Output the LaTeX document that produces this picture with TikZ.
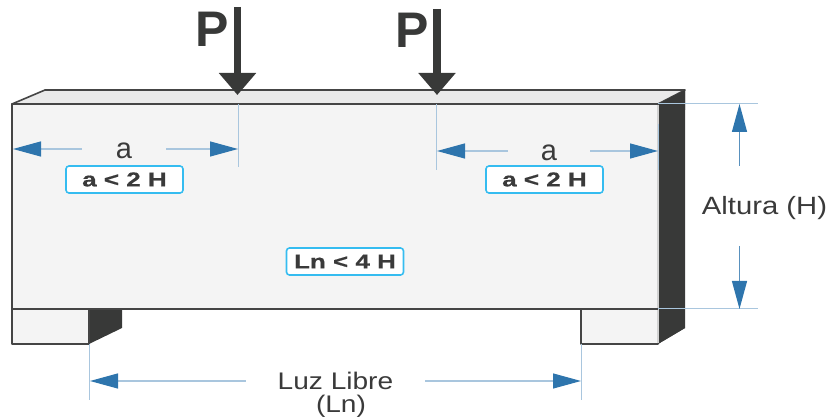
\documentclass[tikz,border=0pt]{standalone}
\usepackage{fontspec}
\usetikzlibrary{arrows.meta}
\setmainfont{Liberation Sans}
\newfontfamily\widefont[FakeStretch=1.17]{Liberation Sans}
\newfontfamily\boldwide[FakeStretch=1.3,FakeBold=0.6]{Liberation Sans Bold}
\definecolor{edgec}{HTML}{454545}
\definecolor{facec}{HTML}{F4F4F4}
\definecolor{topc}{HTML}{EAEAEA}
\definecolor{darkc}{HTML}{383938}
\definecolor{dimc}{HTML}{2E75AD}
\definecolor{extc}{HTML}{A9C6DE}
\definecolor{labc}{HTML}{35BCF0}
\definecolor{txtc}{HTML}{3A3A3A}
\tikzset{
  solid face/.style={fill=facec,draw=edgec,line width=1.6pt,line join=round},
  dark face/.style={fill=darkc,draw=none},
  load/.style={draw=darkc,line width=7.5pt,-{Triangle[length=22pt,width=36pt,fill=darkc]}},
  extline/.style={draw=extc,line width=1pt},
  dimline/.style={draw=extc,line width=1.2pt,-{Triangle[length=28pt,width=15pt,fill=dimc,color=dimc]}},
  dimtext/.style={text=txtc,font=\fontsize{25}{25}\widefont,inner sep=0pt,anchor=center},
  smallatext/.style={text=txtc,font=\fontsize{29}{29}\selectfont,inner sep=0pt,anchor=center},
  limitbox/.style={draw=labc,fill=white,line width=1.6pt,rounded corners=3pt,text=txtc,
    font=\fontsize{20}{20}\boldwide,inner sep=0pt,minimum width=117pt,minimum height=27pt,anchor=center},
  loadtext/.style={text=darkc,font=\fontsize{50}{50}\bfseries,inner sep=0pt,anchor=center}
}
\begin{document}
\begin{tikzpicture}[x=1pt,y=-1pt]
\useasboundingbox (0,0) rectangle (831,419);
% beam and supports
\fill[dark face] (658,104) -- (685,90) -- (685,328) -- (658,344) -- cycle;
\fill[dark face] (89,309) -- (122,309) -- (122,328) -- (89,344) -- cycle;
\draw[solid face,fill=topc] (12,104) -- (45,90) -- (685,90) -- (658,104) -- cycle;
\fill[dark face] (658,104) -- (685,90) -- (685,110) -- (658,110) -- cycle;
\draw[solid face] (12,309) rectangle (89,344);
\draw[solid face] (581,309) rectangle (658,344);
\fill[dark face] (658,105) rectangle (685,328);
\fill[dark face] (658,328) -- (685,328) -- (658,344) -- cycle;
\draw[solid face] (12,104) rectangle (658,309);
\draw[draw=facec!70!gray,line width=1.2pt] (658,105) -- (658,343);
\draw[draw=edgec,line width=1.6pt] (12,104) -- (658,104);
\draw[draw=edgec,line width=1.6pt] (12,309) -- (658,309);
% named points
\coordinate (p1top) at (237.5,7);
\coordinate (p1tip) at (237.5,95);
\coordinate (p2top) at (437,9);
\coordinate (p2tip) at (437,95);
\coordinate (e1a) at (238.5,104); \coordinate (e1b) at (238.5,167);
\coordinate (e2a) at (436.5,104); \coordinate (e2b) at (436.5,170);
\coordinate (e3a) at (658,124); \coordinate (e3b) at (658,170);
\coordinate (e4a) at (658,104); \coordinate (e4b) at (758,104);
\coordinate (e5a) at (658,309); \coordinate (e5b) at (758,309);
\coordinate (e6a) at (89,344); \coordinate (e6b) at (89,400);
\coordinate (e7a) at (581,344); \coordinate (e7b) at (581,400);
\coordinate (t1) at (13,149); \coordinate (t2) at (238,149);
\coordinate (t3) at (437,151); \coordinate (t4) at (658,151);
\coordinate (t5) at (739.5,104); \coordinate (t6) at (739.5,309);
\coordinate (t7) at (90,381); \coordinate (t8) at (581,381);
\coordinate (s5) at (739.5,166); \coordinate (s6) at (739.5,246);
% loads
\draw[load] (p1top) -- (p1tip);
\draw[load] (p2top) -- (p2tip);
\node[loadtext] (P1) at (212,29) {P};
\node[loadtext] (P2) at (412,30) {P};
% extension lines
\foreach \u/\v in {e1a/e1b,e2a/e2b,e3a/e3b,e4a/e4b,e5a/e5b,e6a/e6b,e7a/e7b}
  \draw[extline] (\u) -- (\v);
% dimension texts
\node[smallatext,minimum width=84pt] (a1) at (124,151) {a};
\node[smallatext,minimum width=82pt] (a2) at (549,153) {a};
\node[dimtext] (alt) at (764.5,208) {Altura (H)};
\node[dimtext,font=\fontsize{24}{24}\widefont,minimum width=179pt] (luz) at (335.5,381) {Luz Libre};
\node[dimtext,font=\fontsize{24}{24}\widefont] (ln) at (341,406.5) {(Ln)};
% dimension arrows
\draw[dimline] (a1.west |- t1) -- (t1);
\draw[dimline] (a1.east |- t2) -- (t2);
\draw[dimline] (a2.west |- t3) -- (t3);
\draw[dimline] (a2.east |- t4) -- (t4);
\draw[dimline,draw=dimc!65!extc] (s5) -- (t5);
\draw[dimline,draw=dimc!65!extc] (s6) -- (t6);
\draw[dimline] (luz.west |- t7) -- (t7);
\draw[dimline] (luz.east |- t8) -- (t8);
% limit labels
\node[limitbox] (l1) at (124.5,179.5) {a < 2 H};
\node[limitbox] (l2) at (544.5,179.5) {a < 2 H};
\node[limitbox] (l3) at (345,261.5) {Ln < 4 H};
\end{tikzpicture}
\end{document}
